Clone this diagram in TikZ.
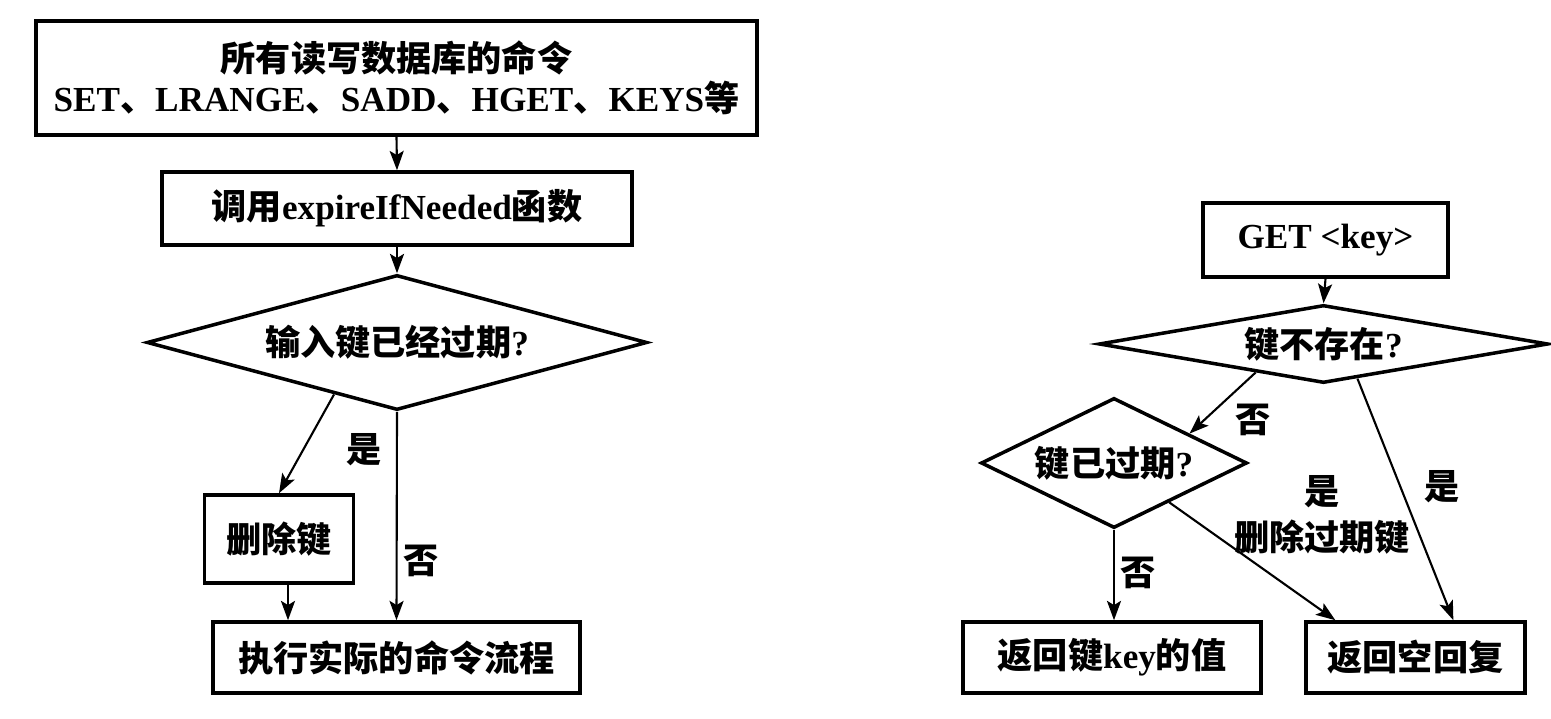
\documentclass[tikz,border=0pt]{standalone}
\usepackage{fontspec}
\setmainfont{Liberation Serif}
\newfontfamily\cjk{Noto Sans CJK SC}
\usetikzlibrary{shapes.geometric,arrows.meta,calc}
\newcommand{\zh}[1]{{\cjk #1}}
\begin{document}
\begin{tikzpicture}[x=0.01cm,y=-0.01cm,
  txt/.style={font=\fontsize{10}{11.5}\selectfont\bfseries},
  box/.style={txt, draw, line width=1pt, rectangle, inner sep=0pt, align=center},
  dia/.style={txt, draw, line width=1pt, diamond, inner sep=0pt},
  arr/.style={-{Stealth[length=5.5pt,width=4pt,inset=1.2pt]}, line width=0.6pt},
  lab/.style={txt, inner sep=0pt}]
\useasboundingbox (0,0) rectangle (1551,719);
% left flow
\node[box, minimum width=7.21cm, minimum height=1.14cm] (b1) at (396.5,78)
  {\zh{所有读写数据库的命令}\\SET\zh{、}LRANGE\zh{、}SADD\zh{、}HGET\zh{、}KEYS\zh{等}};
\node[box, minimum width=4.70cm, minimum height=0.73cm] (b2) at (397,208.5)
  {\zh{调用}expireIfNeeded\zh{函数}};
\node[dia, shape aspect=3.7, minimum width=5.0cm, minimum height=1.35cm] (d1) at (397,342.5)
  {\zh{输入键已经过期}?};
\node[box, minimum width=1.49cm, minimum height=0.88cm] (del) at (279,539) {\zh{删除键}};
\node[box, minimum width=3.67cm, minimum height=0.71cm] (fin) at (396.5,657.5)
  {\zh{执行实际的命令流程}};
\draw[arr] (b1.south) -- (b2.north);
\draw[arr] (b2.south) -- (d1.north);
\draw[arr] ($(d1.south)!0.25!(d1.west)$) -- (del.north);
\draw[arr] ([xshift=0.09cm]del.south) -- ([xshift=0.09cm]del.south |- fin.north);
\draw[arr] (d1.south) -- (fin.north);
\node[lab] (l1) at (364,450) {\zh{是}};
\node[lab] (l2) at (421,561) {\zh{否}};
% right flow
\node[box, minimum width=2.45cm, minimum height=0.74cm] (get) at (1325.5,240) {GET <key>};
\node[dia, shape aspect=5.76, minimum width=4.49cm, minimum height=0.78cm] (d2) at (1323.5,344) {\zh{键不存在}?};
\node[dia, shape aspect=2.05, minimum width=2.66cm, minimum height=1.30cm] (d3) at (1114,463) {\zh{键已过期}?};
\node[box, minimum width=2.98cm, minimum height=0.71cm] (r1) at (1112,657.5) {\zh{返回键}key\zh{的值}};
\node[box, minimum width=2.19cm, minimum height=0.71cm] (r2) at (1415.5,657.5) {\zh{返回空回复}};
\draw[arr] (get.south) -- (d2.north);
\draw[arr] ($(d2.south)!0.3!(d2.west)$) -- ($(d3.north)!0.56!(d3.east)$);
\draw[arr] ($(d2.south)!0.15!(d2.east)$) -- ($(r2.north west)!0.67!(r2.north east)$);
\draw[arr] ($(d3.south)!0.41!(d3.east)$) -- ($(r2.north west)!0.14!(r2.north east)$);
\draw[arr] (d3.south) -- (d3.south |- r1.north);
\node[lab] (l3) at (1253,420) {\zh{否}};
\node[lab] (l4) at (1322,492) {\zh{是}};
\node[lab] (l5) at (1322,537) {\zh{删除过期键}};
\node[lab] (l6) at (1442,487) {\zh{是}};
\node[lab] (l7) at (1138,573) {\zh{否}};
\end{tikzpicture}
\end{document}
